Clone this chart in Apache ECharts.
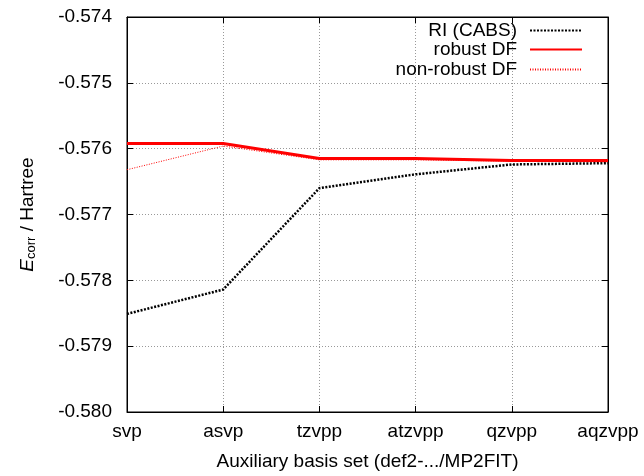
<!DOCTYPE html>
<html>
<head>
<meta charset="utf-8">
<script src="https://cdn.jsdelivr.net/npm/echarts@6/dist/echarts.min.js"></script>
<style>
  html, body { margin: 0; padding: 0; background: #fff; }
  #chart { width: 644px; height: 476px; }
</style>
</head>
<body>
<div id="chart"></div>
<script>
// values
var basisSets = ['svp', 'asvp', 'tzvpp', 'atzvpp', 'qzvpp', 'aqzvpp'];
var riCabs = [-0.57851, -0.57814, -0.57660, -0.57639, -0.57624, -0.57622];
var robustDF = [-0.57592, -0.57592, -0.57615, -0.57615, -0.57618, -0.57618];
var nonRobustDF = [-0.57632, -0.57596, -0.57617, -0.57617, -0.57619, -0.57620];

var font = 'Liberation Sans, Arial, sans-serif';
var fs = 19;
var myChart = echarts.init(document.getElementById('chart'));

// one legend per entry so the texts end flush right like in gnuplot
function legendFor(name, top) {
  return {
    data: [name],
    orient: 'vertical',
    align: 'right',
    right: 61,
    top: top,
    padding: 0,
    itemWidth: 52,
    itemHeight: 12,
    itemStyle: { opacity: 0 },
    textStyle: { fontFamily: font, fontSize: fs, color: '#000', padding: [0, 8, 0, 0] }
  };
}

var gridLine = { show: true, lineStyle: { color: '#999', type: [1, 2], width: 1 } };
var tick = { show: true, inside: true, length: 6, lineStyle: { color: '#000' } };

option = {
  animation: false,
  backgroundColor: '#fff',
  grid: { left: 127, right: 36, top: 17, bottom: 59, show: true, borderColor: '#000', borderWidth: 1 },
  legend: [
    legendFor('RI (CABS)', 21),
    legendFor('robust DF', 40),
    legendFor('non-robust DF', 60)
  ],
  xAxis: [{
    type: 'category',
    data: basisSets,
    boundaryGap: false,
    axisLine: { lineStyle: { color: '#000' } },
    axisTick: tick,
    axisLabel: { fontFamily: font, fontSize: fs, color: '#000', margin: 10 },
    splitLine: gridLine,
    name: 'Auxiliary basis set (def2-.../MP2FIT)',
    nameLocation: 'middle',
    nameGap: 40,
    nameTextStyle: { fontFamily: font, fontSize: fs, color: '#000' }
  }, {
    type: 'category',
    data: basisSets,
    boundaryGap: false,
    position: 'top',
    axisLine: { lineStyle: { color: '#000' } },
    axisTick: tick,
    axisLabel: { show: false }
  }],
  yAxis: [{
    type: 'value',
    min: -0.580,
    max: -0.574,
    interval: 0.001,
    axisLine: { show: true, lineStyle: { color: '#000' } },
    axisTick: tick,
    axisLabel: {
      fontFamily: font, fontSize: fs, color: '#000', margin: 15,
      formatter: function (v) { return v.toFixed(3); }
    },
    splitLine: gridLine,
    name: '{i|E}{s|corr} / Hartree',
    nameLocation: 'middle',
    nameGap: 89,
    nameTextStyle: {
      fontFamily: font, fontSize: fs, color: '#000',
      rich: {
        i: { fontFamily: font, fontSize: fs, fontStyle: 'italic', color: '#000' },
        s: { fontFamily: font, fontSize: 13, color: '#000', verticalAlign: 'bottom', padding: [8, 0, 0, 0] }
      }
    }
  }, {
    type: 'value',
    min: -0.580,
    max: -0.574,
    interval: 0.001,
    position: 'right',
    axisLine: { show: true, lineStyle: { color: '#000' } },
    axisTick: tick,
    axisLabel: { show: false },
    splitLine: { show: false }
  }],
  series: [{
    name: 'RI (CABS)',
    type: 'line',
    data: riCabs,
    symbol: 'none',
    color: '#000',
    lineStyle: { color: '#000', width: 2.5, type: [2, 1.5] }
  }, {
    name: 'non-robust DF',
    type: 'line',
    data: nonRobustDF,
    symbol: 'none',
    color: '#f00',
    lineStyle: { color: '#f00', width: 1, type: [1, 1.5] }
  }, {
    name: 'robust DF',
    type: 'line',
    data: robustDF,
    symbol: 'none',
    color: '#f00',
    lineStyle: { color: '#f00', width: 3, type: 'solid' }
  }]
};

myChart.setOption(option);
</script>
</body>
</html>
